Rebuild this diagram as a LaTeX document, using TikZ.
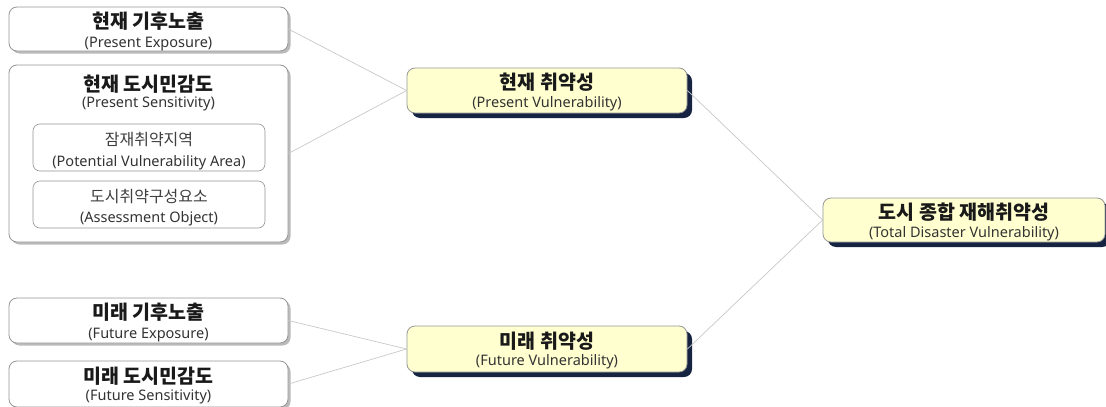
\documentclass[tikz,border=0pt]{standalone}
\usepackage{fontspec}
\setmainfont{Noto Sans CJK KR}
\newfontfamily\enf{Noto Sans}
\usetikzlibrary{shadows}
\definecolor{boxline}{RGB}{150,150,150}
\definecolor{conn}{RGB}{200,200,200}
\definecolor{vfill}{RGB}{255,255,208}
\definecolor{navy}{RGB}{22,36,66}
\tikzset{
  whitebox/.style={draw=boxline, line width=0.8pt, fill=white, rounded corners=8pt, inner sep=0pt,
     drop shadow={shadow xshift=2.5pt, shadow yshift=-2.5pt, fill=black!45, opacity=0.6}},
  innerbox/.style={draw=boxline, line width=0.6pt, fill=white, rounded corners=7pt, inner sep=0pt},
  vulbox/.style={draw=boxline, line width=0.8pt, fill=vfill, rounded corners=8pt, inner sep=0pt,
     drop shadow={shadow xshift=5pt, shadow yshift=-5pt, fill=navy, opacity=1}},
  ttl/.style={font=\fontsize{19.5}{22}\selectfont\bfseries, text=black!90, inner sep=0pt},
  sub/.style={font=\enf\fontsize{14.5}{16}\selectfont, text=black!80, inner sep=0pt},
  lt/.style={font=\fontsize{16}{18}\selectfont, text=black!75, inner sep=0pt},
  conn/.style={draw=conn, line width=0.7pt}
}
\begin{document}
\begin{tikzpicture}[x=1pt,y=-1pt]
\useasboundingbox (0,0) rectangle (1106,407);
\node[whitebox, minimum width=279pt, minimum height=44pt] (pe) at (148.5,29) {};
\node[whitebox, minimum width=279pt, minimum height=177pt] (ps) at (148.5,153.5) {};
\node[innerbox, minimum width=232pt, minimum height=47pt] (pa) at (149,147.5) {};
\node[innerbox, minimum width=232pt, minimum height=47pt] (ao) at (149,204.5) {};
\node[whitebox, minimum width=279pt, minimum height=45pt] (fe) at (148.5,320.5) {};
\node[whitebox, minimum width=279pt, minimum height=46pt] (fs) at (148.5,384) {};
\node[vulbox, minimum width=280pt, minimum height=45pt] (pv) at (547,90.5) {};
\node[vulbox, minimum width=280pt, minimum height=46pt] (fv) at (547,349) {};
\node[vulbox, minimum width=282pt, minimum height=44pt] (tv) at (964,220) {};
% connectors
\draw[conn] (pe.east) -- (pv.west);
\draw[conn] (ps.east) -- (pv.west);
\draw[conn] (fe.east) -- (fv.west);
\draw[conn] (fs.east) -- (fv.west);
\draw[conn] (pv.east) -- (tv.west);
\draw[conn] (fv.east) -- (tv.west);
% texts
\node[ttl] (pet) at (148.5,21.5) {현재 기후노출};
\node[sub] (pes) at (148.5,44.5) {(Present Exposure)};
\node[ttl] (pst) at (148.5,84) {현재 도시민감도};
\node[sub] (pss) at (148.5,104) {(Present Sensitivity)};
\node[lt] (pat) at (149,140) {잠재취약지역};
\node[sub] (pas) at (149,163) {(Potential Vulnerability Area)};
\node[lt] (aot) at (149,197) {도시취약구성요소};
\node[sub] (aos) at (149,218.5) {(Assessment Object)};
\node[ttl] (fet) at (148.5,312.5) {미래 기후노출};
\node[sub] (fes) at (148.5,335) {(Future Exposure)};
\node[ttl] (fst) at (148.5,376.5) {미래 도시민감도};
\node[sub] (fss) at (148.5,397) {(Future Sensitivity)};
\node[ttl] (pvt) at (547,82.5) {현재 취약성};
\node[sub] (pvs) at (547,104) {(Present Vulnerability)};
\node[ttl] (fvt) at (547,341.5) {미래 취약성};
\node[sub] (fvs) at (547,362) {(Future Vulnerability)};
\node[ttl] (tvt) at (964,212.5) {도시 종합 재해취약성};
\node[sub] (tvs) at (964,234) {(Total Disaster Vulnerability)};
\end{tikzpicture}
\end{document}
